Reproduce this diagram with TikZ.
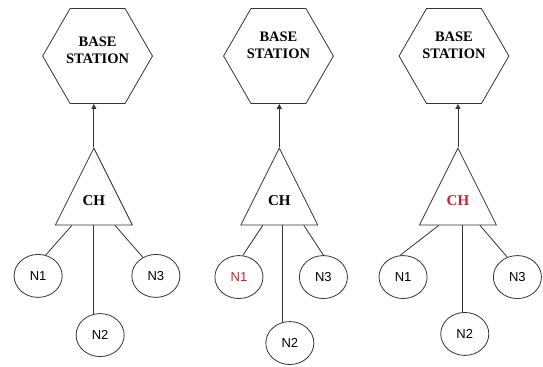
\documentclass[tikz,border=0pt]{standalone}
\usepackage{fontspec}
\setmainfont{Liberation Serif}
\newfontfamily\nodefont{Liberation Sans}
\usetikzlibrary{arrows.meta,shapes.geometric,calc}
\definecolor{edge}{HTML}{333333}
\definecolor{alert}{HTML}{C0272D}

\begin{document}
\begin{tikzpicture}[
          station/.style={draw=edge, line width=0.8pt, regular polygon, regular polygon sides=6, minimum size=3.86cm, inner sep=0pt, align=center, font=\bfseries\fontsize{14.5}{17}\selectfont},
          head/.style={draw=edge, line width=0.8pt, isosceles triangle, shape border rotate=90, isosceles triangle stretches, minimum width=2.7cm, minimum height=2.7cm, inner sep=0pt, anchor=apex, text depth=0.3cm, font=\bfseries\fontsize{15}{17}\selectfont},
          member/.style={draw=edge, line width=0.8pt, ellipse, minimum width=1.69cm, minimum height=1.51cm, inner sep=0pt, font=\nodefont\fontsize{13}{15}\selectfont},
          arr/.style={-{Triangle[length=5pt,width=5pt]}, line width=0.8pt, color=edge},
          link/.style={line width=0.8pt, color=edge}]
        \useasboundingbox (0,0) rectangle (19.09,12.90);
        % first round
        \node[station, text depth=0.42cm] (bs1) at (3.43,10.93) {BASE\\STATION};
        \node[head] (ch1) at (3.30,7.73) {CH};
        \node[member] (n11) at (1.34,3.20) {N1};
        \node[member] (n12) at (3.52,1.12) {N2};
        \node[member] (n13) at (5.48,3.20) {N3};
        \draw[arr] (ch1.apex) -- (ch1.apex |- bs1.south);
        \draw[link] ($(ch1.lower side)+(-0.77,0)$) -- (n11.70);
        \draw[link] (ch1.lower side -| n12.109) -- (n12.109);
        \draw[link] ($(ch1.lower side)+(0.74,0)$) -- (n13.125);
        % second round
        \node[station, text depth=0.77cm] (bs2) at (9.79,10.93) {BASE\\STATION};
        \node[head] (ch2) at (9.82,7.73) {CH};
        \node[member, text=alert] (n21) at (8.40,3.16) {N1};
        \node[member] (n22) at (10.19,0.84) {N2};
        \node[member] (n23) at (11.37,3.16) {N3};
        \draw[arr] (ch2.apex) -- (ch2.apex |- bs2.south);
        \draw[link] ($(ch2.lower side)+(-0.58,0)$) -- (n21.80);
        \draw[link] (ch2.lower side -| n22.109) -- (n22.109);
        \draw[link] ($(ch2.lower side)+(0.86,0)$) -- (n23.90);
        % third round
        \node[station, text depth=0.77cm] (bs3) at (15.96,10.93) {BASE\\STATION};
        \node[head, text=alert] (ch3) at (16.10,7.73) {CH};
        \node[member] (n31) at (14.17,3.16) {N1};
        \node[member] (n32) at (16.34,1.16) {N2};
        \node[member] (n33) at (18.19,3.16) {N3};
        \draw[arr] (ch3.apex) -- (ch3.apex |- bs3.south);
        \draw[link] ($(ch3.lower side)+(-0.67,0)$) -- (n31.98);
        \draw[link] (ch3.lower side -| n32.95) -- (n32.95);
        \draw[link] ($(ch3.lower side)+(0.77,0)$) -- (n33.117);
      \end{tikzpicture}
\end{document}
